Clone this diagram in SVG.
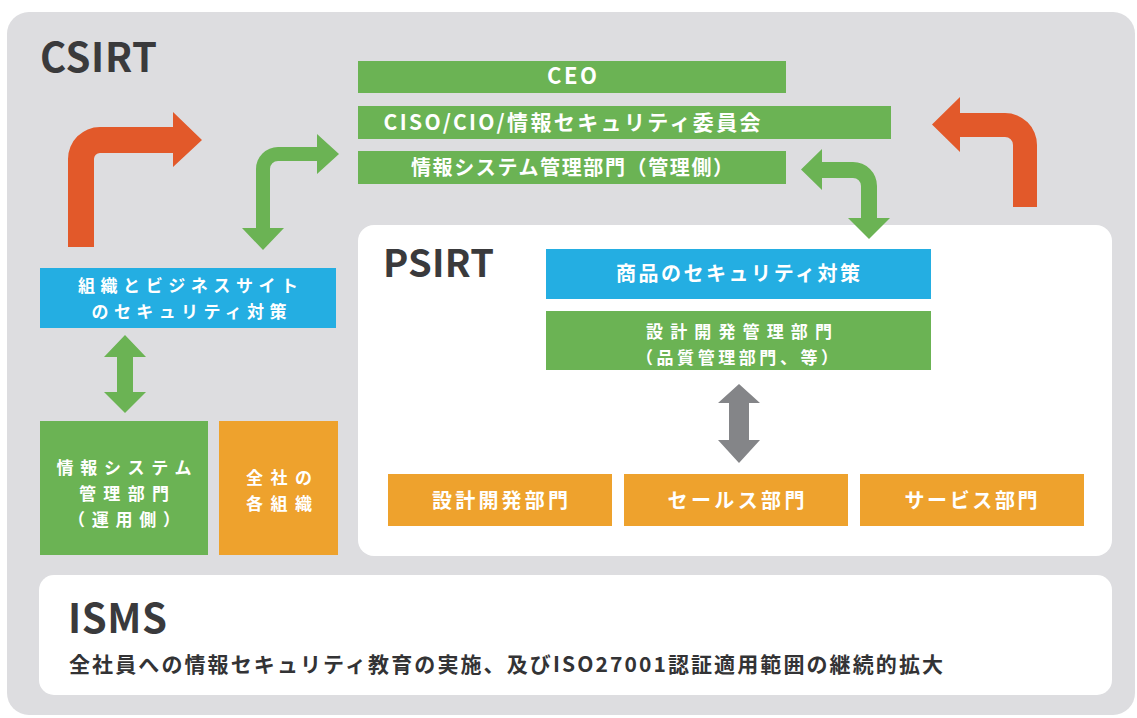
<svg xmlns="http://www.w3.org/2000/svg" width="1137" height="718" viewBox="0 0 1137 718">
<style>
  text { font-family: "Noto Sans CJK JP", "Noto Sans", sans-serif; font-weight: 700; }
  .w { fill: #ffffff; font-size: 20px; text-anchor: middle; }
  .w2 { fill: #ffffff; font-size: 17px; text-anchor: middle; }
  .title { fill: #3a3a3c; font-size: 40px; }
  .sub { fill: #333335; font-size: 21px; }
  .green { fill: #6bb354; }
  .blue { fill: #24aee2; }
  .orange { fill: #eea22d; }
  .oarrow { fill: #e2592a; }
  .garrow { fill: #6bb354; }
  .gyarrow { fill: #848588; }
</style>
<rect x="0" y="0" width="1137" height="718" fill="#ffffff"/>
<g id="csirt">
  <rect x="7" y="12" width="1128" height="703" rx="22" fill="#dddde0"/>
  <text class="title" x="40" y="72" textLength="117" lengthAdjust="spacing">CSIRT</text>
</g>
<g id="psirt">
  <rect x="358" y="225" width="754" height="331" rx="16" fill="#ffffff"/>
  <text class="title" x="383" y="277" style="font-size:38px" textLength="111" lengthAdjust="spacing">PSIRT</text>
</g>
<g id="isms">
  <rect x="39" y="575" width="1073" height="120" rx="15" fill="#ffffff"/>
  <text class="title" x="68" y="633" style="font-size:40px" textLength="99" lengthAdjust="spacing">ISMS</text>
  <text class="sub" x="69" y="672" textLength="874" lengthAdjust="spacing">全社員への情報セキュリティ教育の実施、及びISO27001認証適用範囲の継続的拡大</text>
</g>
<g id="ceo">
  <rect class="green" x="358" y="61" width="428" height="32"/>
  <text class="w" x="572" y="84" style="font-size:22px" textLength="50" lengthAdjust="spacing">CEO</text>
</g>
<g id="ciso">
  <rect class="green" x="358" y="106" width="533" height="33"/>
  <text class="w" x="572" y="130" style="font-size:21px" textLength="377" lengthAdjust="spacing">CISO/CIO/情報セキュリティ委員会</text>
</g>
<g id="infosys-mgmt">
  <rect class="green" x="358" y="151" width="428" height="33"/>
  <text class="w" x="572" y="175" textLength="322" lengthAdjust="spacing">情報システム管理部門（管理側）</text>
</g>
<g id="org-security">
  <rect class="blue" x="40" y="268" width="296" height="60"/>
  <text class="w2" x="188" y="292" textLength="220" lengthAdjust="spacing">組織とビジネスサイト</text>
  <text class="w2" x="189" y="318" textLength="195" lengthAdjust="spacing">のセキュリティ対策</text>
</g>
<g id="infosys-ops">
  <rect class="green" x="40" y="421" width="168" height="134"/>
  <text class="w2" x="124" y="474" textLength="135" lengthAdjust="spacing">情報システム</text>
  <text class="w2" x="124" y="500" textLength="90" lengthAdjust="spacing">管理部門</text>
  <text class="w2" x="124" y="526" textLength="112" lengthAdjust="spacing">（運用側）</text>
</g>
<g id="all-orgs">
  <rect class="orange" x="219" y="421" width="119" height="134"/>
  <text class="w2" x="279" y="484" textLength="66" lengthAdjust="spacing">全社の</text>
  <text class="w2" x="279" y="510" textLength="66" lengthAdjust="spacing">各組織</text>
</g>
<g id="product-security">
  <rect class="blue" x="546" y="249" width="385" height="50"/>
  <text class="w" x="738" y="281" textLength="244" lengthAdjust="spacing">商品のセキュリティ対策</text>
</g>
<g id="dev-mgmt">
  <rect class="green" x="546" y="311" width="385" height="59"/>
  <text class="w2" x="739" y="338" textLength="186" lengthAdjust="spacing">設計開発管理部門</text>
  <text class="w2" x="737" y="364" textLength="202" lengthAdjust="spacing">（品質管理部門、等）</text>
</g>
<g id="dev">
  <rect class="orange" x="388" y="474" width="224" height="52"/>
  <text class="w" x="500" y="508" textLength="136" lengthAdjust="spacing">設計開発部門</text>
</g>
<g id="sales">
  <rect class="orange" x="624" y="474" width="224" height="52"/>
  <text class="w" x="736" y="508" textLength="137" lengthAdjust="spacing">セールス部門</text>
</g>
<g id="service">
  <rect class="orange" x="860" y="474" width="224" height="52"/>
  <text class="w" x="971" y="508" textLength="133" lengthAdjust="spacing">サービス部門</text>
</g>
<g id="connectors">
  <path class="oarrow" d="M68,247 L68,159 A32,32 0 0 1 100,127 L173,127 L173,112 L202,140 L173,167 L173,153 L100,153 A6,6 0 0 0 94,159 L94,247 Z"/>
  <path class="oarrow" d="M1037,207 L1037,145 A32,32 0 0 0 1005,113 L960,113 L960,97 L932,124.5 L960,152 L960,137 L1005,137 A8,8 0 0 1 1013,145 L1013,207 Z"/>
  <path class="garrow" d="M256,228 L242,228 L263,250 L284,228 L270,228 L270,169 A8,8 0 0 1 278,161 L317,161 L317,174 L339,154 L317,134 L317,147 L278,147 A22,22 0 0 0 256,169 Z"/>
  <path class="garrow" d="M822,178 L822,190 L801,169.5 L822,149 L822,162 L853,162 A24,24 0 0 1 877,186 L877,218 L890,218 L869,239 L848,218 L861,218 L861,186 A8,8 0 0 0 853,178 Z"/>
  <path class="garrow" d="M125,335 L146,357 L133,357 L133,392 L146,392 L125,413 L104,392 L117,392 L117,357 L104,357 Z"/>
  <path class="gyarrow" d="M739,384 L760,403 L749,403 L749,440 L760,440 L739,463 L718,440 L729,440 L729,403 L718,403 Z"/>
</g>
</svg>
